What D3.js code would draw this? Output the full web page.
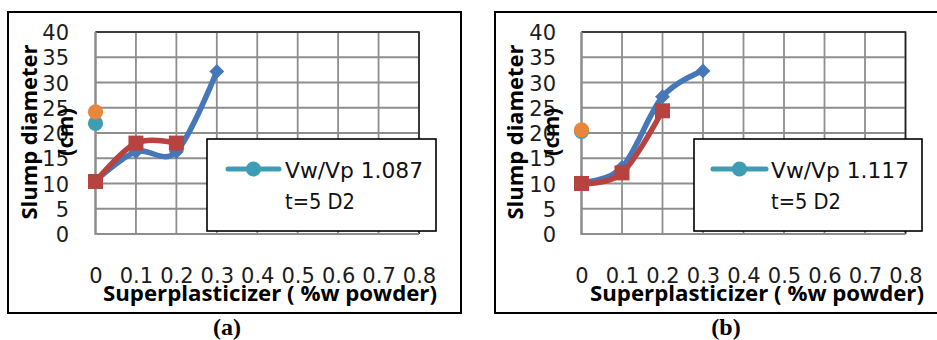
<!DOCTYPE html>
<html>
<head>
<meta charset="utf-8">
<script src="https://cdn.jsdelivr.net/npm/d3@7"></script>
<style>
  html, body { margin: 0; padding: 0; background: #fff; }
  svg { display: block; }
</style>
</head>
<body>
<svg id="chart" width="937" height="340"></svg>
<script>
// ---------- data ----------
const xTickValues = [0, 0.1, 0.2, 0.3, 0.4, 0.5, 0.6, 0.7, 0.8];
const xTickLabels = ["0", "0.1", "0.2", "0.3", "0.4", "0.5", "0.6", "0.7", "0.8"];
const yTickValues = [0, 5, 10, 15, 20, 25, 30, 35, 40];
const xTitle = "Superplasticizer ( %w powder)";
const yTitleLine1 = "Slump diameter";
const yTitleLine2 = "(cm)";
const legendLine1 = ["Vw/Vp 1.087", "Vw/Vp 1.117"];
const legendLine2 = "t=5 D2";
const captions = ["(a)", "(b)"];

// panel (a)
const blueX_a = [0, 0.1, 0.2, 0.3];
const blueY_a = [10.5, 16.3, 16.3, 32.2];
const redX_a = [0, 0.1, 0.2];
const redY_a = [10.4, 18, 18];
const tealX_a = [0];
const tealY_a = [21.9];
const orangeX_a = [0];
const orangeY_a = [24.2];

// panel (b)
const blueX_b = [0, 0.1, 0.2, 0.3];
const blueY_b = [10.2, 13.2, 27.2, 32.3];
const redX_b = [0, 0.1, 0.2];
const redY_b = [10, 12.1, 24.4];
const tealX_b = [0];
const tealY_b = [20.3];
const orangeX_b = [0];
const orangeY_b = [20.6];

// ---------- styles ----------
const C = {
  blue: "#4677B8",
  red: "#B6433F",
  teal: "#3E9DB5",
  orange: "#E8863C",
  grid: "#8E8E8E",
  text: "#1c1c1c"
};
const tickFont = "'DejaVu Sans', sans-serif";
const titleFont = "'Open Sans', 'DejaVu Sans', sans-serif";

const svg = d3.select("#chart");

function zip(xs, ys) { return xs.map((x, i) => ({ x, y: ys[i] })); }

function drawPanel(p) {
  const g = svg.append("g");
  // outer frame
  g.append("rect")
    .attr("x", p.outer.x).attr("y", p.outer.y)
    .attr("width", p.outer.w).attr("height", p.outer.h)
    .attr("fill", "#fff").attr("stroke", "#000").attr("stroke-width", 2);

  const x = d3.scaleLinear().domain([0, 0.8]).range([p.plot.x0, p.plot.x1]);
  const y = d3.scaleLinear().domain([0, 40]).range([p.plot.y1, p.plot.y0]);

  // gridlines
  const grid = g.append("g");
  grid.selectAll("line.h").data(yTickValues).join("line")
    .attr("x1", p.plot.x0).attr("x2", p.plot.x1)
    .attr("y1", d => y(d)).attr("y2", d => y(d))
    .attr("stroke", C.grid).attr("stroke-width", 1.8);
  grid.selectAll("line.v").data(xTickValues).join("line")
    .attr("class", "v")
    .attr("x1", d => x(d)).attr("x2", d => x(d))
    .attr("y1", p.plot.y0).attr("y2", p.plot.y1)
    .attr("stroke", C.grid).attr("stroke-width", 1.8);
  // plot border top and right (dark)
  g.append("path")
    .attr("d", `M${p.plot.x0},${p.plot.y0}H${p.plot.x1}V${p.plot.y1}`)
    .attr("fill", "none").attr("stroke", "#222").attr("stroke-width", 1.6);
  // axes (grey)
  g.append("path")
    .attr("d", `M${p.plot.x0},${p.plot.y0}V${p.plot.y1}H${p.plot.x1}`)
    .attr("fill", "none").attr("stroke", C.grid).attr("stroke-width", 2.2);

  // y tick labels via d3 axis
  const yAxis = d3.axisLeft(y).tickValues(yTickValues).tickSize(0).tickPadding(0);
  const ya = g.append("g").attr("transform", `translate(${p.yTickRight},0)`).call(yAxis);
  ya.select(".domain").remove();
  ya.selectAll("text").attr("font-family", tickFont).attr("font-size", 21)
    .attr("fill", C.text).attr("dy", "0.36em");

  // x tick labels via d3 axis
  const xAxis = d3.axisBottom(x).tickValues(xTickValues)
    .tickFormat((d, i) => xTickLabels[i]).tickSize(0).tickPadding(0);
  const xa = g.append("g").attr("transform", `translate(0,${p.xTickBaseline})`).call(xAxis);
  xa.select(".domain").remove();
  xa.selectAll("text").attr("font-family", tickFont).attr("font-size", 21)
    .attr("fill", C.text).attr("dy", 0);

  // axis titles
  g.append("text")
    .attr("x", p.xTitleX).attr("y", p.xTitleY)
    .attr("text-anchor", "middle")
    .attr("font-family", titleFont).attr("font-weight", "bold").attr("font-size", 22)
    .attr("textLength", 334).attr("lengthAdjust", "spacingAndGlyphs")
    .attr("fill", "#000").text(xTitle);
  g.append("text")
    .attr("transform", `translate(${p.yTitleX},${p.yTitleCY}) rotate(-90)`)
    .attr("text-anchor", "middle")
    .attr("font-family", titleFont).attr("font-weight", "bold").attr("font-size", 22)
    .attr("textLength", 175).attr("lengthAdjust", "spacingAndGlyphs")
    .attr("fill", "#000").text(yTitleLine1);
  g.append("text")
    .attr("transform", `translate(${p.yTitleX + 36},${p.yTitleCY}) rotate(-90)`)
    .attr("text-anchor", "middle")
    .attr("font-family", titleFont).attr("font-weight", "bold").attr("font-size", 22)
    .attr("fill", "#000").text(yTitleLine2);

  // series
  const line = d3.line().x(d => x(d.x)).y(d => y(d.y)).curve(d3.curveCardinal.tension(0));
  const blue = zip(p.blueX, p.blueY);
  const red = zip(p.redX, p.redY);

  g.append("path").attr("d", line(blue)).attr("fill", "none")
    .attr("stroke", C.blue).attr("stroke-width", 5.5).attr("stroke-linejoin", "round");
  g.selectAll("path.dia").data(blue).join("path")
    .attr("d", d3.symbol().type(d3.symbolDiamond2).size(140))
    .attr("transform", d => `translate(${x(d.x)},${y(d.y)})`)
    .attr("fill", C.blue);

  g.append("path").attr("d", line(red)).attr("fill", "none")
    .attr("stroke", C.red).attr("stroke-width", 5.5).attr("stroke-linejoin", "round");
  g.selectAll("rect.sq").data(red).join("rect")
    .attr("x", d => x(d.x) - 7.5).attr("y", d => y(d.y) - 7.5)
    .attr("width", 15).attr("height", 15).attr("fill", C.red);

  g.selectAll("circle.teal").data(zip(p.tealX, p.tealY)).join("circle")
    .attr("cx", d => x(d.x)).attr("cy", d => y(d.y)).attr("r", 7.6).attr("fill", C.teal);
  g.selectAll("circle.orange").data(zip(p.orangeX, p.orangeY)).join("circle")
    .attr("cx", d => x(d.x)).attr("cy", d => y(d.y)).attr("r", 7.6).attr("fill", C.orange);

  // legend
  const L = p.legend;
  g.append("rect").attr("x", L.x).attr("y", L.y).attr("width", L.w).attr("height", L.h)
    .attr("fill", "#fff").attr("stroke", "#000").attr("stroke-width", 1.6);
  g.append("line").attr("x1", L.lx1).attr("x2", L.lx2).attr("y1", L.ly).attr("y2", L.ly)
    .attr("stroke", C.teal).attr("stroke-width", 5).attr("stroke-linecap", "round");
  g.append("circle").attr("cx", (L.lx1 + L.lx2) / 2).attr("cy", L.ly).attr("r", 7.6).attr("fill", C.teal);
  g.append("text").attr("x", L.tx).attr("y", L.ly + 9)
    .attr("font-family", tickFont).attr("font-size", 22)
    .attr("textLength", 138).attr("lengthAdjust", "spacingAndGlyphs")
    .attr("fill", "#111").text(p.legendText);
  g.append("text").attr("x", L.tx).attr("y", L.ly + 40)
    .attr("font-family", tickFont).attr("font-size", 22)
    .attr("textLength", 70).attr("lengthAdjust", "spacingAndGlyphs")
    .attr("fill", "#111").text(legendLine2);

  // caption
  g.append("text").attr("x", p.captionX).attr("y", 335)
    .attr("text-anchor", "middle")
    .attr("font-family", "'Liberation Serif', 'Times New Roman', serif")
    .attr("font-weight", "bold").attr("font-size", 24)
    .attr("fill", "#000").text(p.caption);
}

drawPanel({
  outer: { x: 8, y: 12, w: 453, h: 301 },
  plot: { x0: 95.5, x1: 419, y0: 32, y1: 234 },
  yTickRight: 69, xTickBaseline: 283,
  xTitleX: 270, xTitleY: 301,
  yTitleX: 37, yTitleCY: 132,
  legend: { x: 207, y: 139, w: 229, h: 92, lx1: 228, lx2: 279, ly: 169, tx: 285 },
  legendText: legendLine1[0],
  blueX: blueX_a, blueY: blueY_a, redX: redX_a, redY: redY_a,
  tealX: tealX_a, tealY: tealY_a, orangeX: orangeX_a, orangeY: orangeY_a,
  captionX: 227, caption: captions[0]
});

drawPanel({
  outer: { x: 495, y: 12, w: 460, h: 301 },
  plot: { x0: 581.5, x1: 905.5, y0: 32, y1: 234 },
  yTickRight: 556, xTickBaseline: 283,
  xTitleX: 757, xTitleY: 301,
  yTitleX: 523, yTitleCY: 132,
  legend: { x: 694, y: 139, w: 228, h: 92, lx1: 713, lx2: 766, ly: 169, tx: 771 },
  legendText: legendLine1[1],
  blueX: blueX_b, blueY: blueY_b, redX: redX_b, redY: redY_b,
  tealX: tealX_b, tealY: tealY_b, orangeX: orangeX_b, orangeY: orangeY_b,
  captionX: 726, caption: captions[1]
});
</script>
</body>
</html>
